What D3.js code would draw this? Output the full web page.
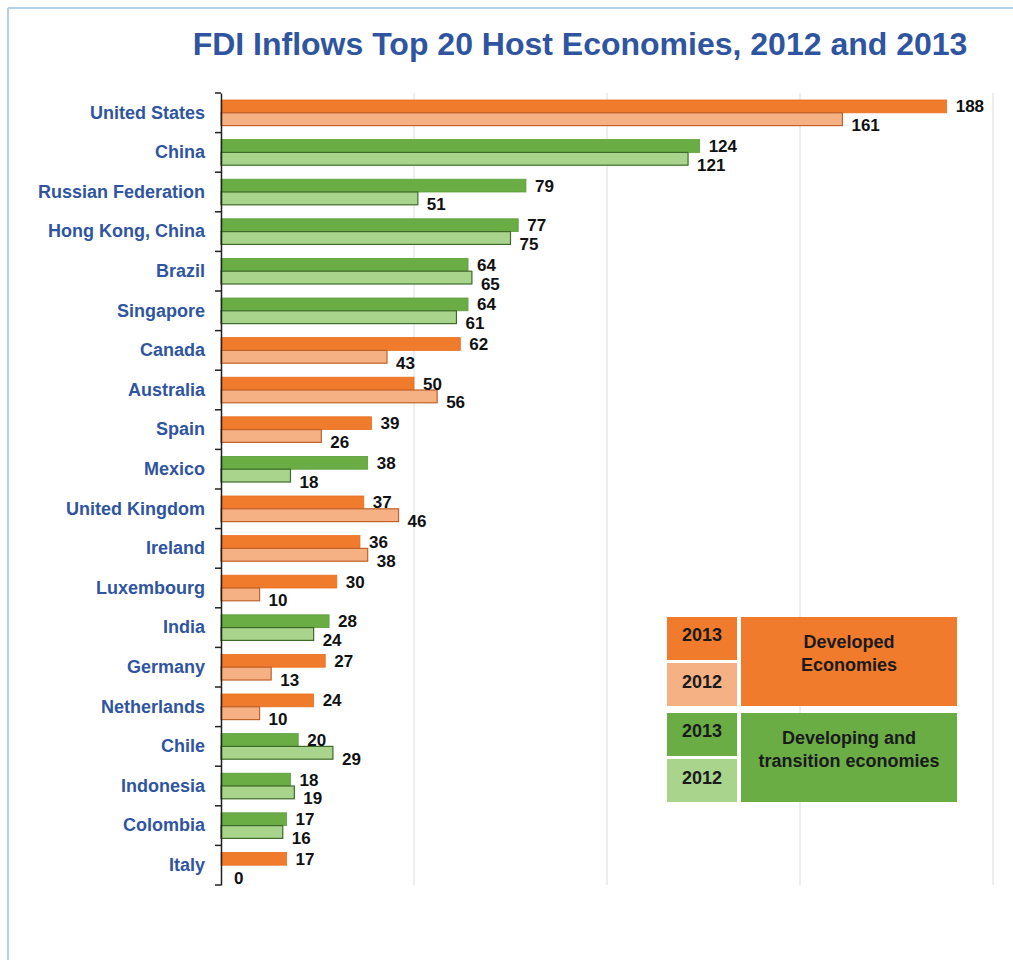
<!DOCTYPE html>
<html>
<head>
<meta charset="utf-8">
<script src="https://d3js.org/d3.v7.min.js"></script>
<style>
  body { margin: 0; background: #fff; }
  text { font-family: "Liberation Sans", Arial, sans-serif; }
</style>
</head>
<body>
<div id="chart"></div>
<script>
// FDI inflows, billions of dollars
var countries = ["United States", "China", "Russian Federation", "Hong Kong, China", "Brazil",
  "Singapore", "Canada", "Australia", "Spain", "Mexico", "United Kingdom", "Ireland",
  "Luxembourg", "India", "Germany", "Netherlands", "Chile", "Indonesia", "Colombia", "Italy"]
var values2013 = [188, 124, 79, 77, 64, 64, 62, 50, 39, 38, 37, 36, 30, 28, 27, 24, 20, 18, 17, 17]
var values2012 = [161, 121, 51, 75, 65, 61, 43, 56, 26, 18, 46, 38, 10, 24, 13, 10, 29, 19, 16, 0]
// "dev" = developed, "dvg" = developing and transition
var groups = ["dev", "dvg", "dvg", "dvg", "dvg", "dvg", "dev", "dev", "dev", "dvg",
  "dev", "dev", "dev", "dvg", "dev", "dev", "dvg", "dvg", "dvg", "dev"]
var gridTicks = [0, 50, 100, 150, 200]

var width = 1013, height = 960

var colors = {
  dev: { y2013: "#f07b2c", y2012: "#f5b083", line2013: "#e86f1e", line2012: "#c0622a" },
  dvg: { y2013: "#6aad45", y2012: "#a8d48b", line2013: "#5c9d3a", line2012: "#3f6b2a" }
}

var svg = d3.select("#chart").append("svg")
  .attr("width", width)
  .attr("height", height)

// light blue frame (top and left)
svg.append("line").attr("x1", 8).attr("x2", width).attr("y1", 8).attr("y2", 8)
  .attr("stroke", "#b4d0ea").attr("stroke-width", 2)
svg.append("line").attr("x1", 8).attr("x2", 8).attr("y1", 8).attr("y2", height)
  .attr("stroke", "#b4d0ea").attr("stroke-width", 2)

svg.append("text")
  .attr("x", 580).attr("y", 55)
  .attr("text-anchor", "middle")
  .attr("font-size", 32).attr("font-weight", "bold")
  .attr("fill", "#2f55a0")
  .text("FDI Inflows Top 20 Host Economies, 2012 and 2013")

var x = d3.scaleLinear().domain([0, 200]).range([221, 993])
var y = d3.scaleBand().domain(countries).range([93, 885]).paddingInner(0).paddingOuter(0)
var inner = 7
var barH = (y.bandwidth() - 2 * inner) / 2

// gridlines
svg.append("g").selectAll("line")
  .data(gridTicks.slice(1))
  .enter().append("line")
  .attr("x1", function(d) { return x(d) }).attr("x2", function(d) { return x(d) })
  .attr("y1", 93).attr("y2", 885)
  .attr("stroke", "#dcdcdc").attr("stroke-width", 1)

var rows = svg.append("g").selectAll("g")
  .data(countries)
  .enter().append("g")
  .attr("transform", function(d) { return "translate(0," + y(d) + ")" })

rows.append("rect")
  .attr("x", x(0))
  .attr("y", inner)
  .attr("width", function(d, i) { return x(values2013[i]) - x(0) })
  .attr("height", barH)
  .attr("fill", function(d, i) { return colors[groups[i]].y2013 })
  .attr("stroke", function(d, i) { return values2013[i] > 0 ? colors[groups[i]].line2013 : "none" })
  .attr("stroke-width", 0.8)

rows.append("rect")
  .attr("x", x(0))
  .attr("y", inner + barH)
  .attr("width", function(d, i) { return x(values2012[i]) - x(0) })
  .attr("height", barH)
  .attr("fill", function(d, i) { return colors[groups[i]].y2012 })
  .attr("stroke", function(d, i) { return values2012[i] > 0 ? colors[groups[i]].line2012 : "none" })
  .attr("stroke-width", 1.2)

rows.append("text")
  .attr("x", function(d, i) { return x(values2013[i]) + 9 })
  .attr("y", inner + barH / 2 + 6)
  .attr("font-size", 17).attr("font-weight", "bold").attr("fill", "#111")
  .text(function(d, i) { return values2013[i] })

rows.append("text")
  .attr("x", function(d, i) { return x(values2012[i]) + (values2012[i] > 0 ? 9 : 13) })
  .attr("y", inner + barH * 1.5 + 12)
  .attr("font-size", 17).attr("font-weight", "bold").attr("fill", "#111")
  .text(function(d, i) { return values2012[i] })

// category axis
var yAxis = svg.append("g")
  .attr("transform", "translate(" + x(0) + ",0)")
  .call(d3.axisLeft(y).tickSize(0).tickPadding(16))
yAxis.select(".domain").attr("stroke", "#222").attr("stroke-width", 1.5)
yAxis.selectAll("text")
  .attr("font-size", 18).attr("font-weight", "bold")
  .attr("fill", "#2f55a0")
  .style("font-family", "'Liberation Sans', Arial, sans-serif")

// tick marks at category boundaries
var bounds = countries.map(function(d) { return y(d) }).concat([y.range()[1]])
svg.append("g").selectAll("line")
  .data(bounds)
  .enter().append("line")
  .attr("x1", x(0) - 6).attr("x2", x(0))
  .attr("y1", function(d) { return d }).attr("y2", function(d) { return d })
  .attr("stroke", "#222").attr("stroke-width", 1.5)

// legend
var legend = svg.append("g")
var legendGroups = [
  { key: "dev", top: 617, label: ["Developed", "Economies"] },
  { key: "dvg", top: 713, label: ["Developing and", "transition economies"] }
]
legendGroups.forEach(function(g) {
  var c = colors[g.key]
  legend.append("rect").attr("x", 667).attr("y", g.top).attr("width", 70).attr("height", 43).attr("fill", c.y2013)
  legend.append("rect").attr("x", 667).attr("y", g.top + 46).attr("width", 70).attr("height", 43).attr("fill", c.y2012)
  legend.append("rect").attr("x", 741).attr("y", g.top).attr("width", 216).attr("height", 89).attr("fill", c.y2013)
  legend.append("text").attr("x", 702).attr("y", g.top + 24).attr("text-anchor", "middle")
    .attr("font-size", 18).attr("font-weight", "bold").attr("fill", "#1a1a1a").text("2013")
  legend.append("text").attr("x", 702).attr("y", g.top + 71).attr("text-anchor", "middle")
    .attr("font-size", 18).attr("font-weight", "bold").attr("fill", "#1a1a1a").text("2012")
  g.label.forEach(function(t, j) {
    legend.append("text").attr("x", 849).attr("y", g.top + 31 + j * 23).attr("text-anchor", "middle")
      .attr("font-size", 18).attr("font-weight", "bold").attr("fill", "#1a1a1a").text(t)
  })
})
</script>
</body>
</html>
